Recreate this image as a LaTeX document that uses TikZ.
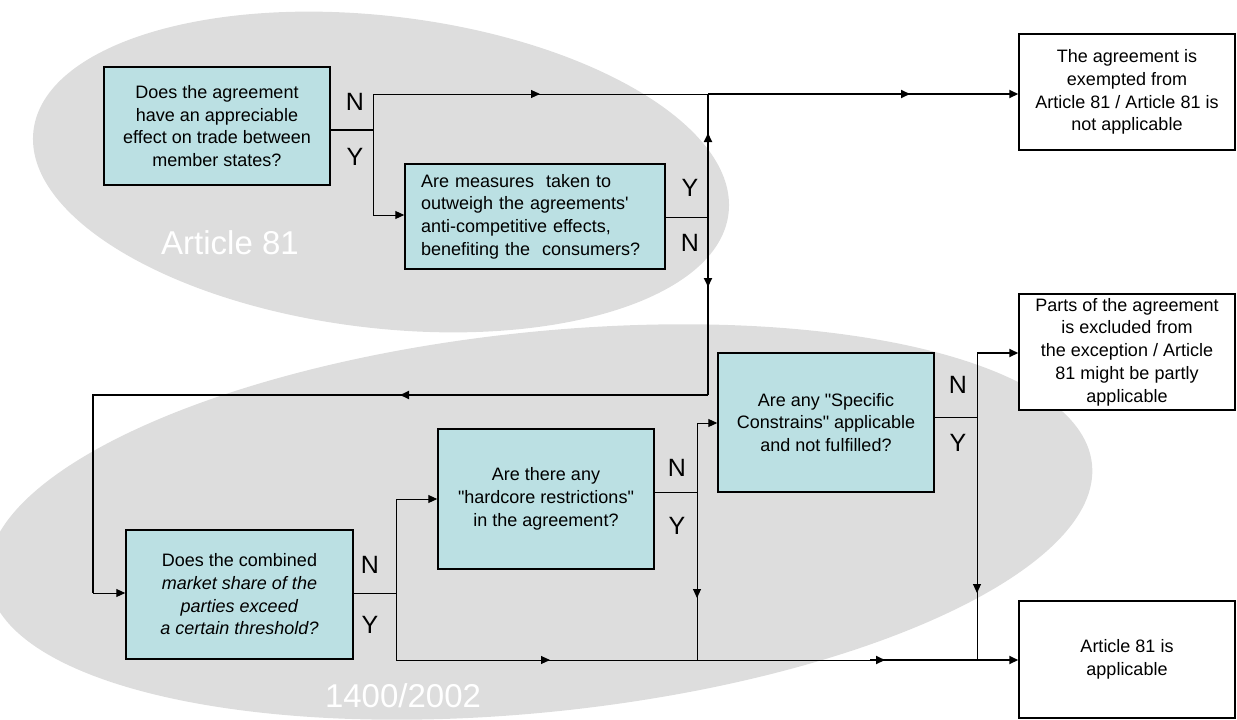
\documentclass[tikz,border=0pt]{standalone}
\usepackage{fontspec}
\setmainfont{Liberation Sans}
\usetikzlibrary{arrows.meta,decorations.markings}
\definecolor{ellgray}{RGB}{221,221,221}
\definecolor{boxcyan}{RGB}{187,224,227}
\tikzset{
  tri/.tip={Triangle[length=9pt,width=8pt]},
  qbox/.style={draw=black, line width=1.5pt, fill=boxcyan, align=center, inner sep=0pt,
    font=\fontsize{18}{22.7}\selectfont},
  rbox/.style={draw=black, line width=1.5pt, fill=white, align=center, inner sep=0pt,
    minimum width=216pt, font=\fontsize{18}{22.7}\selectfont},
  thinln/.style={line width=1pt},
  thkln/.style={line width=2pt},
  midarr/.style={postaction={decorate, decoration={markings, mark=at position #1 with {\arrow{tri}}}}},
  lab/.style={font=\fontsize{25}{25}\selectfont, inner sep=0pt},
  ell/.style={font=\fontsize{33}{33}\selectfont, text=white, inner sep=0pt}
}
\begin{document}
\begin{tikzpicture}[x=1pt,y=-1pt]
\useasboundingbox (0,0) rectangle (1237,720);
\clip (0,0) rectangle (1237,720);
% background ellipses
\fill[ellgray, rotate around={-6.8:(381,172)}] (381,172) ellipse [x radius=350pt, y radius=156pt];
\fill[ellgray, rotate around={6:(540,522)}] (540,522) ellipse [x radius=555pt, y radius=190pt];
\node[ell] (t81) at (230,243) {Article 81};
\node[ell] (t1400) at (403,696) {1400/2002};

% boxes
\node[qbox, minimum width=226pt, minimum height=118pt] (A) at (217,126)
  {Does the agreement\\have an appreciable\\effect on trade between\\member states?};
\node[qbox, minimum width=260pt, minimum height=105pt, text width=228pt, align=left] (B) at (535,216.5)
  {Are measures~ taken to\\outweigh the agreements\textquotesingle\\anti-competitive effects,\\benefiting the~ consumers?};
\node[qbox, minimum width=227pt, minimum height=129pt] (C) at (239.5,594.5)
  {Does the combined\\\textit{market share of the}\\\textit{parties exceed}\\\textit{a certain threshold?}};
\node[qbox, minimum width=216pt, minimum height=140pt] (D) at (546,499)
  {Are there any\\\textquotedbl hardcore restrictions\textquotedbl\\in the agreement?};
\node[qbox, minimum width=216pt, minimum height=139pt] (E) at (826,422.5)
  {Are any \textquotedbl Specific\\Constrains\textquotedbl{} applicable\\and not fulfilled?};
\node[rbox, minimum height=116pt] (F) at (1127,92)
  {The agreement is\\exempted from\\Article 81 / Article 81 is\\not applicable};
\node[rbox, minimum height=116pt] (G) at (1127,352)
  {Parts of the agreement\\is excluded from\\the exception / Article\\81 might be partly\\applicable};
\node[rbox, minimum height=117pt] (H) at (1127,659.5)
  {Article 81 is\\applicable};

% junction coordinates
\coordinate (jA) at (373,130);
\coordinate (jAn) at (373,94);
\coordinate (jAy) at (373,215);
\coordinate (jB) at (708,217);
\coordinate (jBt) at (708,94);
\coordinate (jBb) at (708,395);
\coordinate (lpL) at (93,395);
\coordinate (lpB) at (93,593);
\coordinate (jC) at (396,593);
\coordinate (jCn) at (396,499);
\coordinate (jCy) at (396,660);
\coordinate (jD) at (697,492);
\coordinate (jDn) at (697,423);
\coordinate (jDy) at (697,660);
\coordinate (jE) at (977,417);
\coordinate (jEn) at (977,353);
\coordinate (jEy) at (977,660);
\coordinate (bth) at (870,660);

% connectors
\draw[thkln] (A.east |- jA) -- (jA);
\draw[thinln] (jAn) -- (jAy);
\draw[thinln, midarr=167pt] (jAn) -- (jBt);
\draw[thkln, -tri, midarr=202pt] (jBt) -- (F.west |- jBt);
\draw[thinln, -tri] (jAy) -- (B.west |- jAy);
\draw[thinln] (B.east |- jB) -- (jB);
\draw[thkln, midarr=84pt] (jB) -- (jBt);
\draw[thkln, midarr=70pt] (jB) -- (jBb);
\draw[thkln, midarr=308pt] (jBb) -- (lpL) -- (lpB);
\draw[thinln, -tri] (lpB) -- (C.west |- lpB);
\draw[thinln] (C.east |- jC) -- (jC);
\draw[thinln] (jCn) -- (jCy);
\draw[thinln, -tri] (jCn) -- (D.west |- jCn);
\draw[thinln, midarr=154pt] (jCy) -- (bth);
\draw[thkln, -tri, midarr=15pt] (bth) -- (H.west |- bth);
\draw[thinln] (D.east |- jD) -- (jD);
\draw[thinln] (jDn) -- (jD);
\draw[thinln, -tri] (jDn) -- (E.west |- jDn);
\draw[thinln, midarr=106pt] (jD) -- (jDy);
\draw[thinln] (E.east |- jE) -- (jE);
\draw[thinln] (jEn) -- (jE);
\draw[thkln, -tri] (jEn) -- (G.west |- jEn);
\draw[thinln, midarr=176pt] (jE) -- (jEy);

% labels
\node[lab] (nA) at (355,102) {N};
\node[lab] (yA) at (355,157) {Y};
\node[lab] (yB) at (690,188) {Y};
\node[lab] (nB) at (690,243) {N};
\node[lab] (nC) at (370,565) {N};
\node[lab] (yC) at (370,625) {Y};
\node[lab] (nD) at (677,468) {N};
\node[lab] (yD) at (677,526) {Y};
\node[lab] (nE) at (958,385) {N};
\node[lab] (yE) at (958,443) {Y};
\end{tikzpicture}
\end{document}
